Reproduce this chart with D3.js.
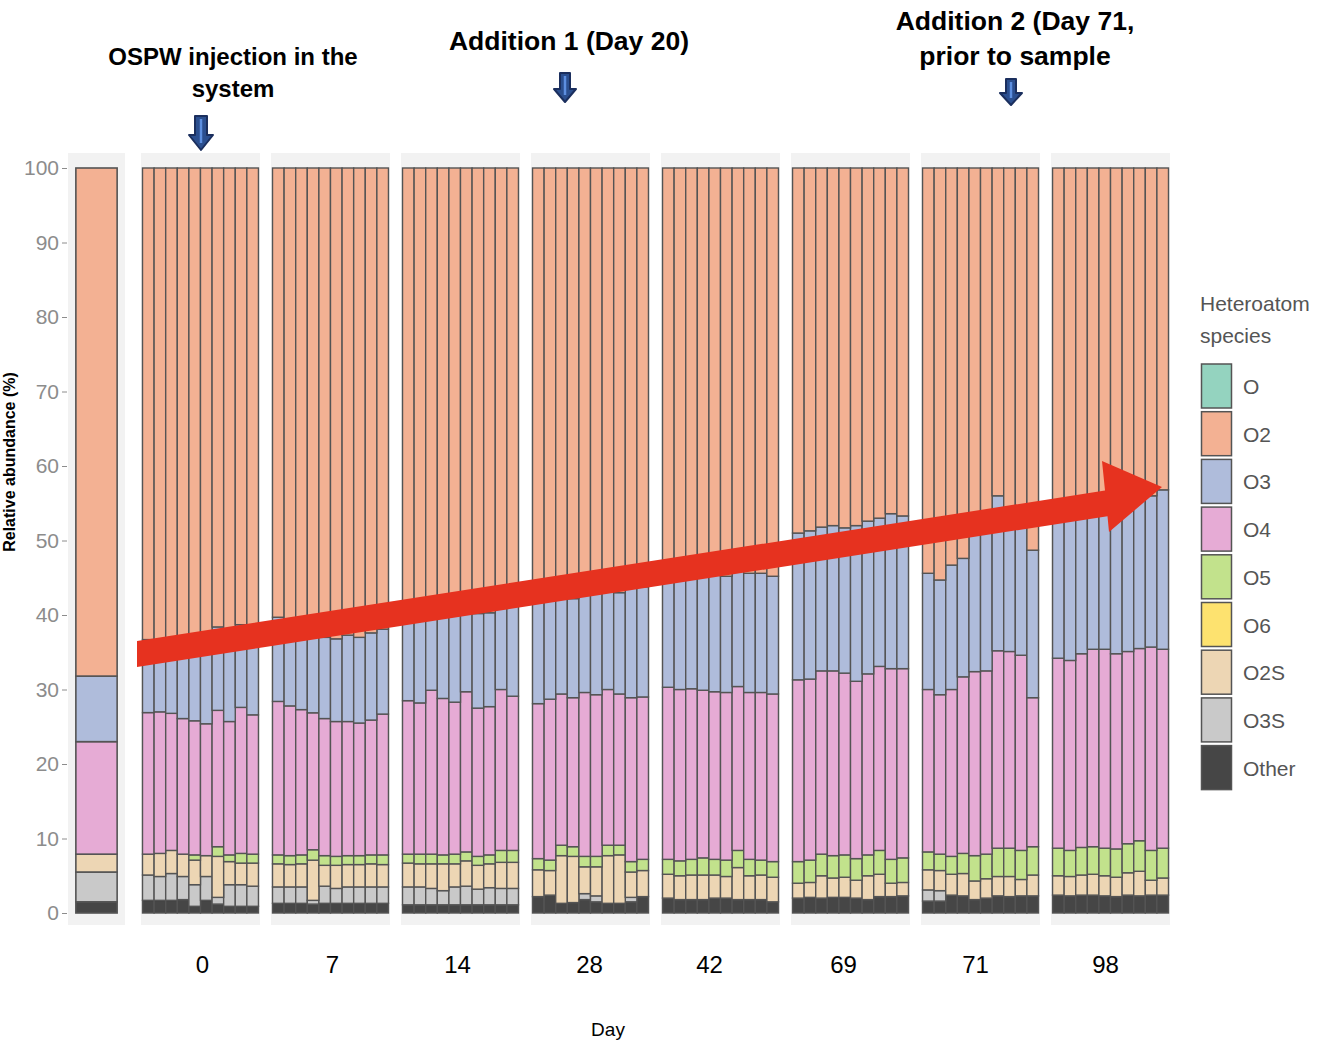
<!DOCTYPE html>
<html>
<head>
<meta charset="utf-8">
<script src="https://cdn.jsdelivr.net/npm/d3@7"></script>
<style>
	body {margin:0; background:#fff;}
	svg {display:block; font-family:"Liberation Sans", Arial, sans-serif;}
</style>
</head>
<body>
<svg id="chart" width="1327" height="1042"></svg>
<script>
/*** Data ***/
const days = ["0", "7", "14", "28", "42", "69", "71", "98"]
const reps = 10
const species = ["O", "O2", "O3", "O4", "O5", "O6", "O2S", "O3S", "Other"]
const stackOrder = ["Other", "O3S", "O2S", "O6", "O5", "O4", "O3", "O2", "O"]

// one value per sample, 10 samples per day, days in order above
const O = [
	0,0,0,0,0,0,0,0,0,0, 0,0,0,0,0,0,0,0,0,0, 0,0,0,0,0,0,0,0,0,0, 0,0,0,0,0,0,0,0,0,0,
	0,0,0,0,0,0,0,0,0,0, 0,0,0,0,0,0,0,0,0,0, 0,0,0,0,0,0,0,0,0,0, 0,0,0,0,0,0,0,0,0,0]
const O2 = [
	63.3,63.5,63.7,64.0,63.5,62.8,61.6,62.0,61.3,61.6,
	60.3,60.5,61.2,62.2,63.0,63.2,62.7,63.0,62.4,61.9,
	58.5,58.0,57.7,58.2,58.5,58.8,59.8,59.7,58.2,58.0,
	58.2,57.9,57.5,57.8,57.0,56.8,56.7,57.0,56.4,56.2,
	54.4,54.4,54.5,54.3,54.2,54.8,54.0,54.4,54.4,54.8,
	49.0,48.7,48.2,48.0,48.3,48.0,47.4,47.0,46.4,46.7,
	54.4,55.3,53.3,52.4,49.0,48.0,44.0,46.5,47.0,51.3,
	47.0,46.8,46.2,46.0,45.5,45.2,44.8,44.5,44.0,43.2]
const O3 = [
	9.8,9.5,9.5,9.9,10.7,11.8,11.2,12.3,11.1,11.8,
	11.3,11.7,11.5,11.0,10.9,11.1,11.6,11.5,11.7,11.4,
	13.0,13.8,12.4,13.0,13.2,11.5,12.7,12.6,11.8,12.9,
	13.7,13.4,13.1,13.3,13.4,13.9,13.3,13.6,14.7,14.8,
	15.3,15.6,15.4,15.8,16.1,15.6,15.6,16.0,16.0,15.8,
	19.7,19.9,19.3,19.5,19.5,20.9,20.5,19.9,20.8,20.5,
	15.6,15.4,16.7,15.9,18.6,19.5,20.8,18.4,18.4,19.8,
	18.8,19.3,19.0,18.6,19.1,20.0,20.1,20.0,20.3,21.4]
const O4 = [
	19.0,19.0,18.4,18.2,18.0,17.7,18.3,17.9,19.6,18.7,
	20.6,20.1,19.5,18.4,18.4,18.1,18.0,17.8,18.1,18.9,
	20.6,20.3,22.0,21.0,20.4,21.5,19.9,19.9,21.6,20.7,
	20.8,21.6,20.3,20.0,22.0,21.7,20.9,20.3,22.0,21.8,
	23.1,23.0,22.9,22.5,22.5,22.5,22.0,22.4,22.5,22.5,
	24.4,24.3,24.6,24.8,24.4,23.8,24.3,24.7,25.6,25.4,
	21.8,21.4,22.4,23.7,24.7,24.6,26.5,26.4,26.2,20.0,
	25.5,25.5,26.0,26.5,26.7,26.2,25.8,25.8,27.3,26.7]
const O5 = [
	0.0,0.0,0.0,0.0,0.7,0.0,1.3,0.9,1.3,1.2,
	1.2,1.2,1.2,1.4,1.3,1.2,1.2,1.2,1.2,1.3,
	1.2,1.3,1.3,1.2,1.3,1.2,1.2,1.2,1.6,1.6,
	1.5,1.4,1.4,1.3,1.4,1.4,1.4,1.3,1.4,1.5,
	2.0,2.0,2.1,2.3,2.1,2.2,2.3,2.2,2.0,2.1,
	2.9,3.0,2.9,3.0,3.0,2.9,2.8,3.2,3.2,3.3,
	2.4,2.2,2.4,2.7,3.4,3.3,3.8,3.8,3.9,3.8,
	3.7,3.5,3.7,3.7,3.7,3.8,3.9,4.1,4.0,4.0]
const O6 = [
	0,0,0,0,0,0,0,0,0,0, 0,0,0,0,0,0,0,0,0,0, 0,0,0,0,0,0,0,0,0,0, 0,0,0,0,0,0,0,0,0,0,
	0,0,0,0,0,0,0,0,0,0, 0,0,0,0,0,0,0,0,0,0, 0,0,0,0,0,0,0,0,0,0, 0,0,0,0,0,0,0,0,0,0]
const O2S = [
	2.8,3.1,3.1,3.0,3.3,2.8,5.5,3.1,2.9,3.1,
	3.1,3.0,3.1,5.4,2.8,3.1,3.0,3.0,3.1,3.0,
	3.2,3.1,3.3,3.6,3.1,3.4,3.2,3.2,3.5,3.5,
	3.6,3.3,6.4,6.2,3.6,3.9,6.4,6.5,3.4,3.5,
	3.2,3.2,3.3,3.3,3.1,2.9,4.3,3.2,3.3,3.3,
	2.0,2.0,3.0,2.6,2.7,2.4,3.2,3.0,1.8,1.8,
	2.7,2.7,2.8,3.0,2.5,2.6,2.6,2.7,2.2,2.8,
	2.6,2.6,2.7,2.8,2.7,2.6,3.0,3.3,2.0,2.3]
const O3S = [
	3.4,3.2,3.6,3.1,2.9,3.2,0.9,2.9,2.9,2.7,
	2.2,2.2,2.2,0.5,2.3,2.0,2.2,2.2,2.2,2.2,
	2.4,2.4,2.2,1.9,2.4,2.5,2.1,2.3,2.2,2.2,
	0,0,0,0,0.8,0.8,0,0,0.6,0,
	0,0,0,0,0,0,0,0,0,0,
	0,0,0,0,0,0,0,0,0,0,
	1.5,1.4,0,0,0,0,0,0,0,0,
	0,0,0,0,0,0,0,0,0,0]
const Other = [
	1.7,1.7,1.7,1.8,0.9,1.7,1.2,0.9,0.9,0.9,
	1.3,1.3,1.3,1.2,1.3,1.3,1.3,1.3,1.3,1.3,
	1.1,1.1,1.1,1.1,1.1,1.1,1.1,1.1,1.1,1.1,
	2.2,2.4,1.3,1.4,1.8,1.5,1.3,1.3,1.5,2.2,
	2.0,1.8,1.8,1.8,2.0,2.0,1.8,1.8,1.8,1.5,
	2.0,2.1,2.0,2.1,2.1,2.0,1.8,2.2,2.2,2.3,
	1.6,1.6,2.4,2.3,1.8,2.0,2.3,2.2,2.3,2.3,
	2.4,2.3,2.4,2.4,2.3,2.2,2.4,2.3,2.4,2.4]

// OSPW reference sample (left panel)
const refValues = {O: 0, O2: 68.2, O3: 8.8, O4: 15.1, O5: 0, O6: 0, O2S: 2.4, O3S: 4.0, Other: 1.5}

const yTicks = [0, 10, 20, 30, 40, 50, 60, 70, 80, 90, 100]

const colors = {
	O: "#94d3bf", O2: "#f3b193", O3: "#afbcdb", O4: "#e6abd5", O5: "#c2e28c",
	O6: "#fde26f", O2S: "#edd6b4", O3S: "#c9c9c9", Other: "#464646"
}

/*** Build rows ***/
const series = {O, O2, O3, O4, O5, O6, O2S, O3S, Other}
const rows = []
days.forEach((d, i) => {
	for (let j = 0; j < reps; j++) {
		var r = {day: d, rep: j}
		species.forEach(s => {r[s] = series[s][i * reps + j]})
		rows.push(r)
	}
})

/*** Setup ***/
const svg = d3.select("#chart")
const STROKE = "#545454"

const y = d3.scaleLinear().domain([0, 1]).range([913, 168])
const xPanel = d3.scaleBand().domain(days).range([141, 1170]).paddingInner(0.085).paddingOuter(0)
const xBar = d3.scaleBand().domain(d3.range(reps)).range([1.5, xPanel.bandwidth() - 1.5]).padding(0)
const xRef = d3.scaleBand().domain(["OSPW"]).range([68, 125]).padding(0.16)

const stack = d3.stack().keys(stackOrder).offset(d3.stackOffsetExpand)

// panel backgrounds
svg.append("rect")
	.attr("x", 68).attr("y", 153).attr("width", 57).attr("height", 772)
	.attr("fill", "#f2f2f2")
svg.append("g").selectAll("rect")
	.data(days).enter().append("rect")
	.attr("x", d => xPanel(d)).attr("y", 153)
	.attr("width", xPanel.bandwidth()).attr("height", 772)
	.attr("fill", "#f2f2f2")

// reference bar
const refStack = stack([refValues])
svg.append("g").selectAll("rect")
	.data(refStack).enter().append("rect")
	.attr("x", xRef("OSPW"))
	.attr("width", xRef.bandwidth())
	.attr("y", s => y(s[0][1]))
	.attr("height", s => y(s[0][0]) - y(s[0][1]))
	.attr("fill", s => colors[s.key])
	.attr("stroke", STROKE).attr("stroke-width", 1.6)

// day panels
days.forEach(d => {
	var pr = rows.filter(r => r.day == d)
	var st = stack(pr)
	var g = svg.append("g").attr("transform", "translate(" + xPanel(d) + ",0)")
	st.forEach(s => {
		g.append("g").selectAll("rect")
			.data(s).enter().append("rect")
			.attr("x", p => xBar(p.data.rep))
			.attr("width", xBar.bandwidth())
			.attr("y", p => y(p[1]))
			.attr("height", p => y(p[0]) - y(p[1]))
			.attr("fill", colors[s.key])
			.attr("stroke", STROKE).attr("stroke-width", 1.4)
	})
})

// y axis
const yAxis = svg.append("g")
	.attr("transform", "translate(67,0)")
	.call(d3.axisLeft(y).tickValues(yTicks.map(v => v / 100)).tickFormat(v => Math.round(v * 100)).tickSize(5).tickPadding(3))
yAxis.select(".domain").remove()
yAxis.selectAll("line").attr("stroke", "#8c8c8c")
yAxis.selectAll("text").attr("fill", "#8c8c8c").style("font-size", "21px").attr("font-family", "Liberation Sans, Arial, sans-serif")

svg.append("text")
	.attr("transform", "translate(15,462) rotate(-90)")
	.attr("text-anchor", "middle")
	.style("font-size", "16px").style("font-weight", "bold")
	.text("Relative abundance (%)")

// day labels (small nudges to sit where the original labels sit)
const labelNudge = [2, 2, -3, -1, -11, -7, -5, -5]
svg.append("g").selectAll("text")
	.data(days).enter().append("text")
	.attr("x", (d, i) => xPanel(d) + xPanel.bandwidth() / 2 + labelNudge[i])
	.attr("y", 973)
	.attr("text-anchor", "middle")
	.style("font-size", "24px")
	.text(d => d)
svg.append("text")
	.attr("x", 608).attr("y", 1036)
	.attr("text-anchor", "middle")
	.style("font-size", "19px")
	.text("Day")

/*** Legend ***/
const lg = svg.append("g").attr("transform", "translate(1200,0)")
lg.append("text").attr("x", 0).attr("y", 311).style("font-size", "21px").attr("fill", "#555").text("Heteroatom")
lg.append("text").attr("x", 0).attr("y", 343).style("font-size", "21px").attr("fill", "#555").text("species")
species.forEach((s, i) => {
	var ky = 364 + i * 47.7
	lg.append("rect")
		.attr("x", 1.5).attr("y", ky).attr("width", 30).attr("height", 44)
		.attr("fill", colors[s]).attr("stroke", STROKE).attr("stroke-width", 1.5)
	lg.append("text")
		.attr("x", 43).attr("y", ky + 30)
		.style("font-size", "21px").attr("fill", "#555")
		.text(s)
})

/*** Annotations ***/
const notes = [
	{x: 233, y: 65, s: 24, t: "OSPW injection in the"},
	{x: 233, y: 97, s: 24, t: "system"},
	{x: 569, y: 49.5, s: 26.5, t: "Addition 1 (Day 20)"},
	{x: 1015, y: 29.5, s: 26.5, t: "Addition 2 (Day 71,"},
	{x: 1015, y: 64.5, s: 26.5, t: "prior to sample"}
]
svg.append("g").selectAll("text")
	.data(notes).enter().append("text")
	.attr("x", d => d.x).attr("y", d => d.y)
	.attr("text-anchor", "middle")
	.style("font-size", d => d.s + "px").style("font-weight", "bold")
	.text(d => d.t)

function downArrow(cx, top, neck, tip, sw, hw) {
	var p = d3.path()
	p.moveTo(cx - sw, top)
	p.lineTo(cx + sw, top)
	p.lineTo(cx + sw, neck)
	p.lineTo(cx + hw, neck)
	p.lineTo(cx, tip)
	p.lineTo(cx - hw, neck)
	p.lineTo(cx - sw, neck)
	p.closePath()
	svg.append("path").attr("d", p.toString())
		.attr("fill", "#2b4f8f").attr("stroke", "#1b2f5e").attr("stroke-width", 2).attr("stroke-linejoin", "round")
	svg.append("line")
		.attr("x1", cx).attr("x2", cx).attr("y1", top + 3).attr("y2", tip - 7)
		.attr("stroke", "#5d8fe0").attr("stroke-width", 2.5)
}
downArrow(201, 116, 135, 150, 6, 12)
downArrow(565, 73, 89, 102, 5, 11)
downArrow(1011, 79, 93, 105, 5, 11)

// red trend arrow
svg.append("polygon")
	.attr("points", [[137, 641], [1105, 490.6], [1102, 461], [1162, 487], [1109, 532], [1107.5, 516.2], [137, 667]].map(p => p.join(",")).join(" "))
	.attr("fill", "#e6321f")
</script>
</body>
</html>
